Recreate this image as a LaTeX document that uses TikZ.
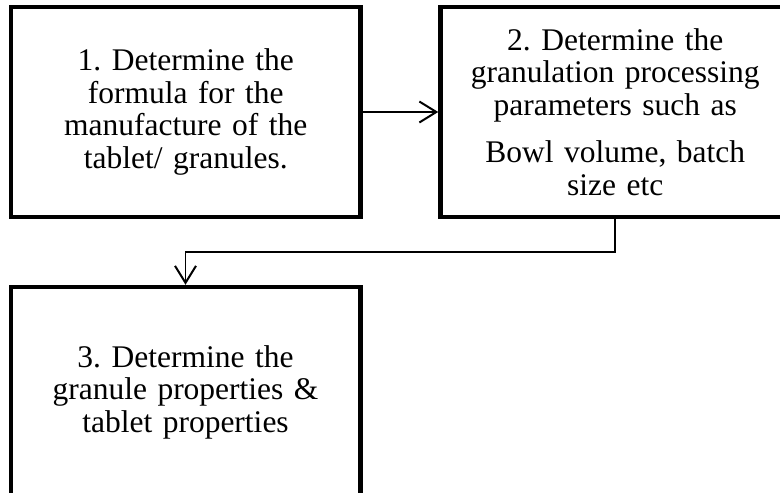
\documentclass[tikz,border=0pt]{standalone}
\usepackage{fontspec}
\setmainfont{Liberation Serif}
\usetikzlibrary{arrows.meta}
\frenchspacing
\begin{document}
\begin{tikzpicture}[x=1pt,y=1pt,
  stepbox/.style={draw, line width=4.5pt, minimum width=349.5pt, minimum height=210pt,
    inner sep=0pt, text width=335pt, align=center, font=\fontsize{31.5}{32.5}\selectfont},
  flow/.style={line width=1.8pt, -{Straight Barb[length=17pt,width=21pt,line width=2pt]}}]
\useasboundingbox (0,0) rectangle (780,-493);
\node (b1) at (185.75,-112) [stepbox] {1. Determine the\\ formula for the\\ manufacture of the\\ tablet/ granules.};
\node (b2) at (615.25,-112) [stepbox] {2. Determine the\\ granulation processing\\ parameters such as\\[15pt] Bowl volume, batch\\ size etc};
\node (b3) at (185.5,-392) [stepbox] {3. Determine the\\ granule properties \&\\ tablet properties};
\coordinate (bend) at (615.25,-252);

\draw[flow] (b1) to (b2);
\draw[flow] (b2.south) -- (bend) -| (b3.north);
\end{tikzpicture}
\end{document}
